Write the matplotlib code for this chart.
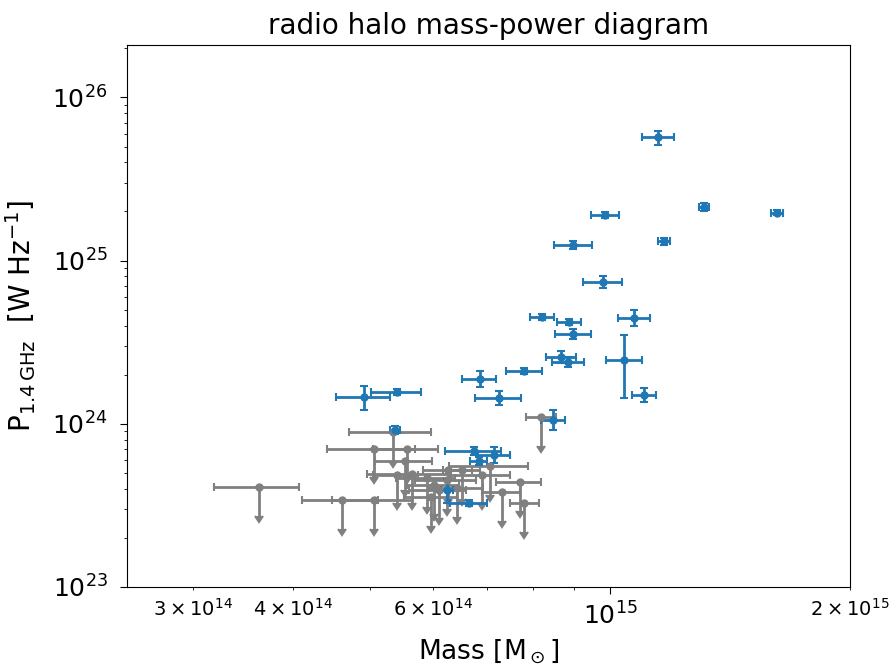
import matplotlib
matplotlib.use("Agg")
import matplotlib.pyplot as plt
import numpy as np

# Detected radio halos (mass in 1e15 Msun, power in 1e24 W/Hz)
det_mass = [1.148, 1.311, 1.618, 0.986, 1.168, 0.899, 0.980, 1.072, 0.822, 0.889,
            0.899, 1.041, 0.869, 0.886, 0.781, 1.103, 0.686, 0.726, 0.849, 0.491,
            0.540, 0.537, 0.675, 0.716, 0.684, 0.624, 0.665]
det_mass_err = [0.053, 0.019, 0.028, 0.040, 0.020, 0.049, 0.054, 0.049, 0.028, 0.031,
                0.047, 0.054, 0.038, 0.041, 0.040, 0.038, 0.034, 0.048, 0.029, 0.038,
                0.039, 0.008, 0.054, 0.033, 0.016, 0.011, 0.036]
det_power = [56.9, 21.4, 19.7, 19.1, 13.1, 12.5, 7.43, 4.47, 4.53, 4.23,
             3.56, 2.47, 2.58, 2.40, 2.11, 1.51, 1.89, 1.44, 1.06, 1.46,
             1.57, 0.919, 0.682, 0.646, 0.593, 0.394, 0.327]
det_power_err = [5.6, 1.2, 0.8, 0.8, 0.7, 0.7, 0.63, 0.51, 0.19, 0.18,
                 0.25, 1.03, 0.21, 0.17, 0.09, 0.15, 0.21, 0.14, 0.15, 0.25,
                 0.07, 0.05, 0.04, 0.073, 0.03, 0.067, 0.014]

# Upper limits (mass in 1e14 Msun, power in 1e23 W/Hz)
lim_mass = [3.63, 4.61, 5.06, 5.34, 5.06, 5.56, 5.53, 5.64, 5.89, 6.01, 6.24, 6.10,
            6.42, 6.90, 7.08, 7.70, 7.81, 8.20, 6.52, 7.31, 6.27, 5.40, 5.97]
lim_mass_err = [0.44, 0.50, 0.58, 0.63, 0.64, 0.52, 0.45, 0.68, 0.50, 0.45, 0.55, 0.50,
                0.50, 0.60, 0.80, 0.50, 0.33, 0.35, 0.35, 0.40, 0.45, 0.35, 0.45]
lim_power = [4.10, 3.42, 3.42, 8.93, 7.03, 7.03, 5.93, 4.93, 4.67, 4.23, 4.53, 3.94,
             4.05, 4.87, 5.52, 4.41, 3.27, 11.0, 5.22, 3.83, 5.22, 4.87, 3.57]
lim_arrow = [1.37, 1.14, 1.14, 2.98, 2.34, 2.34, 1.98, 1.64, 1.56, 1.41, 1.51, 1.31,
             1.35, 1.62, 1.84, 1.47, 1.09, 3.67, 1.74, 1.28, 1.74, 1.62, 1.19]

fig = plt.figure(figsize=(8.95, 6.69), dpi=100)
ax = fig.add_axes([0.142, 0.1226, 0.808, 0.8104])

lm = np.array(lim_mass) * 1e14
lme = np.array(lim_mass_err) * 1e14
lp = np.array(lim_power) * 1e23
la = np.array(lim_arrow) * 1e23
ax.errorbar(lm, lp, xerr=lme, yerr=la, uplims=True, fmt='o', color='grey',
            markersize=5, capsize=3, elinewidth=2, capthick=1.5)

dm = np.array(det_mass) * 1e15
dme = np.array(det_mass_err) * 1e15
dp = np.array(det_power) * 1e24
dpe = np.array(det_power_err) * 1e24
ax.errorbar(dm, dp, xerr=dme, yerr=dpe, fmt='o', color='#1f77b4',
            markersize=5, capsize=3, elinewidth=2, capthick=1.5)

ax.set_xscale('log')
ax.set_yscale('log')
ax.set_xlim(2.48e14, 2e15)
ax.set_ylim(1e23, 2.1e26)

ax.tick_params(axis='both', which='major', labelsize=18, length=5, pad=6)
ax.tick_params(axis='x', which='minor', labelsize=14, pad=6)
ax.tick_params(axis='y', which='major', pad=9)

ax.set_title('radio halo mass-power diagram', fontsize=20, pad=8)
ax.set_xlabel(r'Mass [M$_\odot$]', fontsize=19, labelpad=6)
ax.set_ylabel(r'P$_{1.4\,\mathrm{GHz}}$  [W Hz$^{-1}$]', fontsize=20, labelpad=10)

fig.savefig('out.png', dpi=100)
